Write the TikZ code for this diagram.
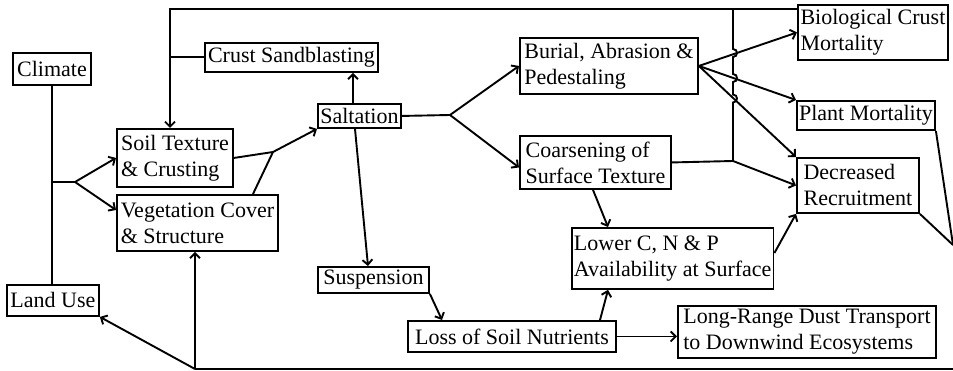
\documentclass[tikz,border=0pt]{standalone}
\usepackage{fontspec}
\setmainfont{Liberation Serif}
\usetikzlibrary{arrows.meta}
\begin{document}
\begin{tikzpicture}[x=1pt,y=-1pt,
  box/.style={draw, line width=1.9pt, inner xsep=2pt, inner ysep=0pt, align=left,
    anchor=north west, font=\fontsize{22}{26}\selectfont},
  ln/.style={line width=1.9pt},
  arr/.style={line width=1.9pt, -{Straight Barb[length=5pt,width=10pt]}}]
\useasboundingbox (0,0) rectangle (953,371);
% boxes
\node[box, minimum width=78pt, minimum height=32pt] (clim) at (12,52) {Climate};
\node[box, minimum width=92pt, minimum height=31pt] (land) at (6,284) {Land Use};
\node[box, minimum width=116pt, minimum height=58pt] (soil) at (116,128) {Soil Texture\\\& Crusting};
\node[box, minimum width=161pt, minimum height=56pt] (veg) at (116,194) {Vegetation Cover\\\& Structure};
\node[box, minimum width=173pt, minimum height=29pt] (crust) at (204,42) {Crust Sandblasting};
\node[box, minimum width=83pt, minimum height=24pt] (salt) at (317,103) {Saltation};
\node[box, minimum width=178pt, minimum height=56pt] (burial) at (519,37) {Burial, Abrasion \&\\Pedestaling};
\node[box, minimum width=151pt, minimum height=53pt] (coarse) at (519,135) {Coarsening of\\Surface Texture};
\node[box, minimum width=111pt, minimum height=26pt] (susp) at (317,266) {Suspension};
\node[box, minimum width=208pt, minimum height=31pt] (loss) at (407,320) {Loss of Soil Nutrients};
\node[box, minimum width=195pt, minimum height=61pt] (lower) at (571,227) {Lower C, N \& P\\Availability at Surface};
\node[box, minimum width=258pt, minimum height=52pt] (long) at (677,305) {Long-Range Dust Transport\\to Downwind Ecosystems};
\node[box, minimum width=150pt, minimum height=55pt] (bio) at (797,4) {Biological Crust\\Mortality};
\node[box, minimum width=138pt, minimum height=29pt] (plant) at (796,100) {Plant Mortality};
\node[box, minimum width=122pt, minimum height=55pt] (dec) at (796,157) {Decreased\\Recruitment};
% junction coordinates
\coordinate (tl) at (170,9);
\coordinate (cb) at (75,182);
\coordinate (j1) at (273,152);
\coordinate (j2) at (450,115);
\coordinate (vt) at (733,9);
\coordinate (vb) at (733,161);
\coordinate (re) at (953,245);
\coordinate (bl) at (195,369);
\coordinate (br) at (953,369);
% top feedback line
\draw[arr] ([yshift=-5pt]bio.north west) -- (tl) -- ([xshift=54pt]soil.north west);
\draw[ln] (crust.west) -- (crust.west -| tl);
% vertical line with hop-overs
\draw[ln] (vt) -- (733,49)
  .. controls (738.3,49) and (738.3,57) .. (733,57) -- (733,74)
  .. controls (738.3,74) and (738.3,82) .. (733,82) -- (733,94.5)
  .. controls (738.3,94.5) and (738.3,102.5) .. (733,102.5) -- (vb);
\draw[ln] (coarse.east) -- (vb);
\draw[arr] (vb) -- (dec.west);
% burial arrows
\draw[arr] (burial.east) -- (bio.west);
\draw[arr] (burial.east) -- (plant.north west);
\draw[arr] (burial.east) -- (dec.north west);
% right edge
\draw[ln] (plant.south east) -- (re);
\draw[ln] (dec.south east) -- (re);
% bottom line
\draw[ln] (bl) -- (br);
\draw[arr] (bl) -- ([xshift=79pt]veg.south west);
\draw[arr] (bl) -- (land.south east);
% climate
\draw[ln] (clim.south) -- (clim.south |- land.north);
\draw[ln] (clim.south |- cb) -- (cb);
\draw[arr] (cb) -- (soil.west);
\draw[arr] (cb) -- ([yshift=-16pt]veg.north west);
% to saltation
\draw[ln] (soil.east) -- (j1);
\draw[ln] ([xshift=137pt]veg.north west) -- (j1);
\draw[arr] (j1) -- (salt.south west);
% saltation out
\draw[arr] ([xshift=36pt]salt.north west) coordinate (s1) -- (s1 |- crust.south);
\draw[arr] ([xshift=38pt]salt.south west) -- ([xshift=51pt]susp.north west);
\draw[ln] (salt.east) -- (j2);
\draw[arr] (j2) -- (burial.west);
\draw[arr] (j2) -- ([yshift=-5pt]coarse.west);
% lower part
\draw[arr] (susp.south east) -- ([xshift=35pt]loss.north west);
\draw[arr] ([xshift=193pt]loss.north west) -- ([xshift=37pt]lower.south west);
\draw[arr] (loss.east) -- (loss.east -| long.west);
\draw[arr] ([xshift=74pt]coarse.south west) -- ([xshift=37pt]lower.north west);
\draw[arr] ([yshift=-26pt]lower.north east) -- (dec.south west);
\end{tikzpicture}
\end{document}
